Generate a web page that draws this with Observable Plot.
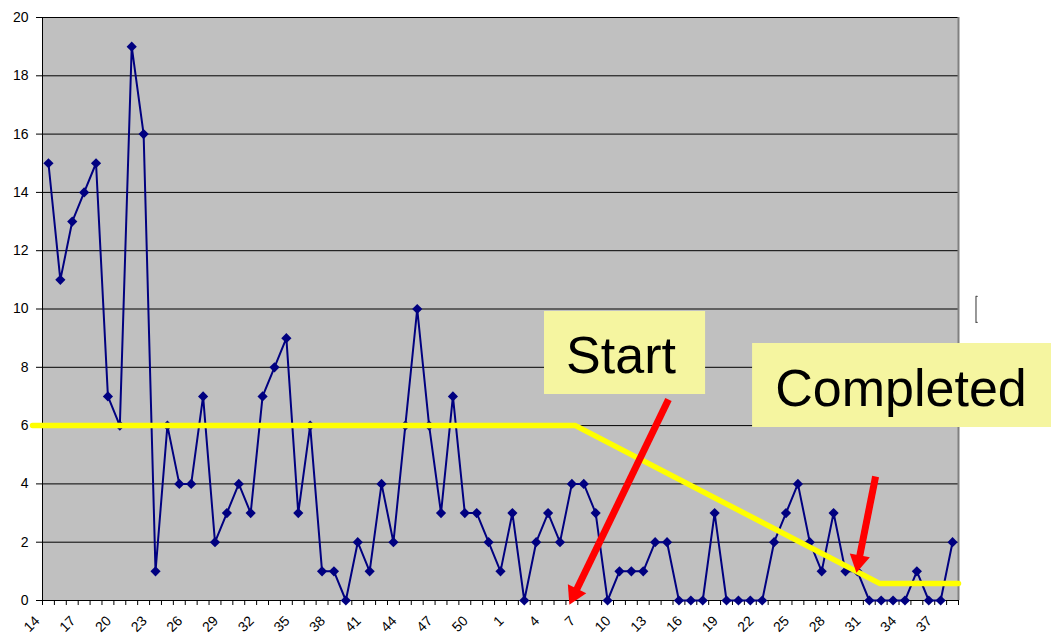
<!DOCTYPE html>
<html><head><meta charset="utf-8">
<script src="https://cdn.jsdelivr.net/npm/d3@7"></script>
<script src="https://cdn.jsdelivr.net/npm/@observablehq/plot@0.6"></script>
<style>body{margin:0;background:#fff;} #chart svg{display:block;}</style>
</head><body><div id="chart"></div>
<script>
// Week labels (category axis): weeks 14..52 of one year, then 1..38 of the next
const weekLabels = [14,15,16,17,18,19,20,21,22,23,24,25,26,27,28,29,30,31,32,33,34,35,36,37,38,39,40,41,42,43,44,45,46,47,48,49,50,51,52,
  1,2,3,4,5,6,7,8,9,10,11,12,13,14,15,16,17,18,19,20,21,22,23,24,25,26,27,28,29,30,31,32,33,34,35,36,37,38];
// Weekly counts
const counts = [15,11,13,14,15,7,6,19,16,1,6,4,4,7,2,3,4,3,7,8,9,3,6,1,1,0,2,1,4,2,6,10,6,3,7,3,3,2,1,
  3,0,2,3,2,4,4,3,0,1,1,1,2,2,0,0,0,3,0,0,0,0,2,3,4,2,1,3,1,1,0,0,0,0,1,0,0,2];
const yTicks = [0,2,4,6,8,10,12,14,16,18,20];
// Target (yellow) line, in category-index / value coordinates
const targetX = [-1.34, 44.3, 69.9, 76.5];
const targetY = [6, 6, 0.58, 0.58];
// Annotation labels and boxes
const noteText = ["Start", "Completed"];
const noteTextX = [48.13, 71.67];
const noteTextY = [8.39, 7.26];
const boxX1 = [41.70, 59.19];
const boxX2 = [55.24, 85.1];
const boxY1 = [7.067, 5.935];
const boxY2 = [9.914, 8.816];
// Red arrows: tail, head centre, rotation
const arrowTailX = [52.12, 69.53];
const arrowTailY = [6.895, 4.254];
const arrowHeadX = [44.22, 68.11];
const arrowHeadY = [0.22, 1.35];
const arrowRotate = [205.8, 191];
// stray bracket at right
const bracketX = [78.07, 77.97, 77.97, 78.07];
const bracketY = [10.43, 10.43, 9.54, 9.54];

const idx = counts.map((_, i) => i);
const labelIdx = idx.filter(i => i % 3 === 0);
const boundaries = d3.range(-0.5, counts.length, 1);
const tIdx = targetX.map((_, i) => i);
const nIdx = [0, 1];
const bIdx = bracketX.map((_, i) => i);

const chart = Plot.plot({
  width: 1051,
  height: 635,
  marginLeft: 42,
  marginRight: 93,
  marginTop: 17,
  marginBottom: 35,
  style: {fontFamily: "'Liberation Sans', Arial, sans-serif", background: "#fff"},
  x: {domain: [-0.5, counts.length - 0.5]},
  y: {domain: [0, 20]},
  marks: [
    Plot.frame({fill: "#C0C0C0", stroke: null}),
    Plot.gridY(yTicks, {stroke: "#000", strokeOpacity: 1, strokeWidth: 1}),
    Plot.ruleX([counts.length - 0.5], {stroke: "#808080", strokeWidth: 2}),
    Plot.ruleX([-0.5], {stroke: "#000", strokeWidth: 1}),
    Plot.ruleY([0], {stroke: "#000", strokeWidth: 1}),
    Plot.axisY(yTicks, {tickSize: 6, tickPadding: 8, fontSize: 14, stroke: "#000", fill: "#000", label: null}),
    Plot.axisX(boundaries, {tickSize: 5, fill: "none", stroke: "#000", label: null}),
    Plot.axisX(labelIdx, {tickSize: 0, tickPadding: 0, tickRotate: -45, dx: -11, dy: 18, fontSize: 14,
      fill: "#000", tickFormat: i => String(weekLabels[i]), label: null}),
    Plot.line(idx, {x: i => i, y: i => counts[i], stroke: "#000080", strokeWidth: 2}),
    Plot.dot(idx, {x: i => i, y: i => counts[i], symbol: "diamond2", r: 4.6, fill: "#000080", stroke: "none"}),
    Plot.line(tIdx, {x: i => targetX[i], y: i => targetY[i], stroke: "#FFFF00", strokeWidth: 5.5}),
    Plot.link(nIdx, {x1: i => arrowTailX[i], y1: i => arrowTailY[i], x2: i => arrowHeadX[i], y2: i => arrowHeadY[i],
      stroke: "#FF0000", strokeWidth: 7}),
    Plot.dot(nIdx, {x: i => arrowHeadX[i], y: i => arrowHeadY[i], symbol: "triangle", r: 7.6,
      rotate: i => arrowRotate[i], fill: "#FF0000", stroke: "none"}),
    Plot.rect(nIdx, {x1: i => boxX1[i], x2: i => boxX2[i], y1: i => boxY1[i], y2: i => boxY2[i], fill: "#F5F5A0"}),
    Plot.text(nIdx, {x: i => noteTextX[i], y: i => noteTextY[i], text: i => noteText[i], fontSize: 52, fill: "#000", textAnchor: "middle"}),
    Plot.line(bIdx, {x: i => bracketX[i], y: i => bracketY[i], stroke: "#555", strokeWidth: 1.2})
  ]
});
document.getElementById("chart").appendChild(chart);
</script>
</body></html>
